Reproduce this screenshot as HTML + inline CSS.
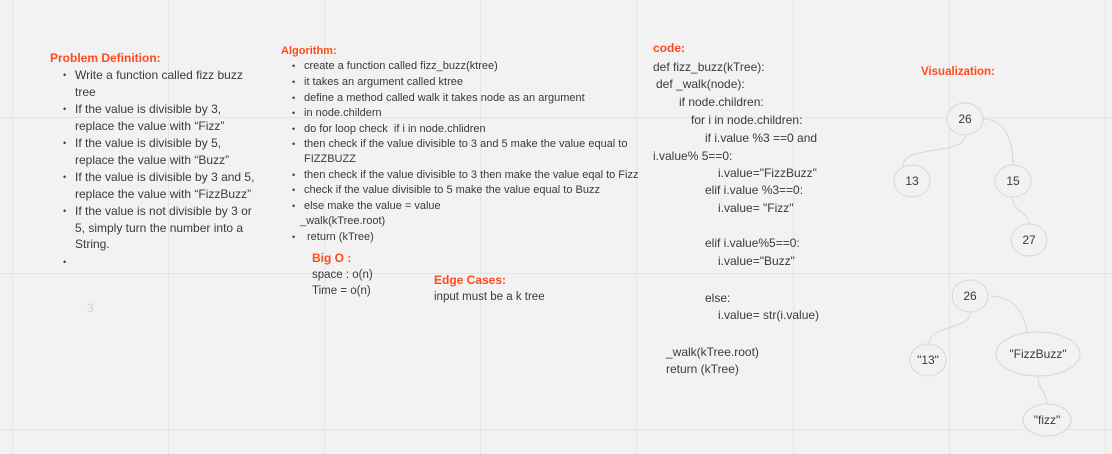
<!DOCTYPE html>
<html><head><meta charset="utf-8"><style>
body{margin:0;width:1112px;height:454px;background:#f2f2f2;position:relative;overflow:hidden;font-family:"Liberation Sans","DejaVu Sans",sans-serif;color:#3a3a3a}
.vl{position:absolute;top:0;width:1px;height:454px;background:#e4e4e4}
.hl{position:absolute;left:0;height:1px;width:1112px;background:#e4e4e4}
.t{position:absolute;white-space:nowrap;line-height:16px}
.h{color:#ff4a1c;font-weight:bold}
.a{font-size:11px}
.p{font-size:12px}
.c{font-size:12px}
.b{position:absolute;font-size:9px;line-height:16px}
</style></head><body>
<div class="vl" style="left:12px"></div><div class="vl" style="left:168px"></div><div class="vl" style="left:324px"></div><div class="vl" style="left:480px"></div><div class="vl" style="left:636px"></div><div class="vl" style="left:793px"></div><div class="vl" style="left:949px"></div><div class="vl" style="left:1105px"></div>
<div class="hl" style="top:117px"></div><div class="hl" style="top:273px"></div><div class="hl" style="top:429px"></div>

<div class="t h p" style="left:50px;top:50px;font-size:12px">Problem Definition:</div>
<div class="b" style="left:63px;top:67px">•</div><div class="t p" style="left:75px;top:67px">Write a function called fizz buzz</div>
<div class="t p" style="left:75px;top:84px">tree</div>
<div class="b" style="left:63px;top:101px">•</div><div class="t p" style="left:75px;top:101px">If the value is divisible by 3,</div>
<div class="t p" style="left:75px;top:118px">replace the value with “Fizz”</div>
<div class="b" style="left:63px;top:135px">•</div><div class="t p" style="left:75px;top:135px">If the value is divisible by 5,</div>
<div class="t p" style="left:75px;top:152px">replace the value with “Buzz”</div>
<div class="b" style="left:63px;top:169px">•</div><div class="t p" style="left:75px;top:169px">If the value is divisible by 3 and 5,</div>
<div class="t p" style="left:75px;top:186px">replace the value with “FizzBuzz”</div>
<div class="b" style="left:63px;top:203px">•</div><div class="t p" style="left:75px;top:203px">If the value is not divisible by 3 or</div>
<div class="t p" style="left:75px;top:220px">5, simply turn the number into a</div>
<div class="t p" style="left:75px;top:236px">String.</div>
<div class="b" style="left:63px;top:254px">•</div>
<div class="t" style="left:87px;top:300px;color:#d0d0d0;font-size:12px">3</div>

<div class="t h" style="left:281px;top:43px;font-size:11px">Algorithm:</div>
<div class="b" style="left:292px;top:58px">•</div><div class="t a" style="left:304px;top:58px">create a function called fizz_buzz(ktree)</div>
<div class="b" style="left:292px;top:74px">•</div><div class="t a" style="left:304px;top:74px">it takes an argument called ktree</div>
<div class="b" style="left:292px;top:90px">•</div><div class="t a" style="left:304px;top:90px">define a method called walk it takes node as an argument</div>
<div class="b" style="left:292px;top:105px">•</div><div class="t a" style="left:304px;top:105px">in node.childern</div>
<div class="b" style="left:292px;top:121px">•</div><div class="t a" style="left:304px;top:121px">do for loop check &nbsp;if i in node.chlidren</div>
<div class="b" style="left:292px;top:136px">•</div><div class="t a" style="left:304px;top:136px">then check if the value divisible to 3 and 5 make the value equal to</div>
<div class="t a" style="left:304px;top:151px">FIZZBUZZ</div>
<div class="b" style="left:292px;top:167px">•</div><div class="t a" style="left:304px;top:167px">then check if the value divisible to 3 then make the value eqal to Fizz</div>
<div class="b" style="left:292px;top:182px">•</div><div class="t a" style="left:304px;top:182px">check if the value divisible to 5 make the value equal to Buzz</div>
<div class="b" style="left:292px;top:198px">•</div><div class="t a" style="left:304px;top:198px">else make the value = value</div>
<div class="t a" style="left:300px;top:213px">_walk(kTree.root)</div>
<div class="b" style="left:292px;top:229px">•</div><div class="t a" style="left:307px;top:229px">return (kTree)</div>

<div class="t h" style="left:312px;top:250px;font-size:12px">Big O :</div>
<div class="t a" style="left:312px;top:267px;font-size:11.5px">space : o(n)</div>
<div class="t a" style="left:312px;top:283px;font-size:11.5px">Time = o(n)</div>
<div class="t h" style="left:434px;top:272px;font-size:12px">Edge Cases:</div>
<div class="t a" style="left:434px;top:289px;font-size:11.5px">input must be a k tree</div>

<div class="t h" style="left:653px;top:40px;font-size:12px">code:</div>
<div class="t c" style="left:653px;top:59px">def fizz_buzz(kTree):</div>
<div class="t c" style="left:656px;top:76px">def _walk(node):</div>
<div class="t c" style="left:679px;top:94px">if node.children:</div>
<div class="t c" style="left:691px;top:112px">for i in node.children:</div>
<div class="t c" style="left:705px;top:130px">if i.value %3 ==0 and</div>
<div class="t c" style="left:653px;top:148px">i.value% 5==0:</div>
<div class="t c" style="left:718px;top:165px">i.value="FizzBuzz"</div>
<div class="t c" style="left:705px;top:182px">elif i.value %3==0:</div>
<div class="t c" style="left:718px;top:200px">i.value= "Fizz"</div>
<div class="t c" style="left:705px;top:235px">elif i.value%5==0:</div>
<div class="t c" style="left:718px;top:253px">i.value="Buzz"</div>
<div class="t c" style="left:705px;top:290px">else:</div>
<div class="t c" style="left:718px;top:307px">i.value= str(i.value)</div>
<div class="t c" style="left:666px;top:344px">_walk(kTree.root)</div>
<div class="t c" style="left:666px;top:361px">return (kTree)</div>

<div class="t h" style="left:921px;top:64px;font-size:11.5px">Visualization:</div>

<svg width="1112" height="454" style="position:absolute;left:0;top:0" font-family="Liberation Sans, sans-serif" font-size="12" fill="none">
<g stroke="#d6d6d6" stroke-width="1">
<path d="M965 136 C965 155 903 145 903 166"/>
<path d="M983 119 C1005 119 1013 140 1013 165"/>
<path d="M1013 198 C1013 212 1029 212 1029 224"/>
<path d="M970 313 C970 330 929 325 929 344"/>
<path d="M989 296 C1012 296 1024 310 1027 333"/>
<path d="M1038 376 C1038 390 1047 392 1047 404"/>
<g fill="#f2f2f2">
<ellipse cx="965" cy="119" rx="18" ry="16"/>
<ellipse cx="912" cy="181" rx="18" ry="16"/>
<ellipse cx="1013" cy="181" rx="18" ry="16"/>
<ellipse cx="1029" cy="240" rx="18" ry="16"/>
<ellipse cx="970" cy="296" rx="18" ry="16"/>
<ellipse cx="928" cy="360" rx="18" ry="16"/>
<ellipse cx="1038" cy="354" rx="42" ry="22"/>
<ellipse cx="1047" cy="420" rx="24" ry="16"/>
</g></g>
<g fill="#3a3a3a" text-anchor="middle">
<text x="965" y="123">26</text><text x="912" y="185">13</text><text x="1013" y="185">15</text><text x="1029" y="244">27</text>
<text x="970" y="300">26</text><text x="928" y="364">"13"</text><text x="1038" y="358">"FizzBuzz"</text><text x="1047" y="424">"fizz"</text>
</g>
</svg>
</body></html>
